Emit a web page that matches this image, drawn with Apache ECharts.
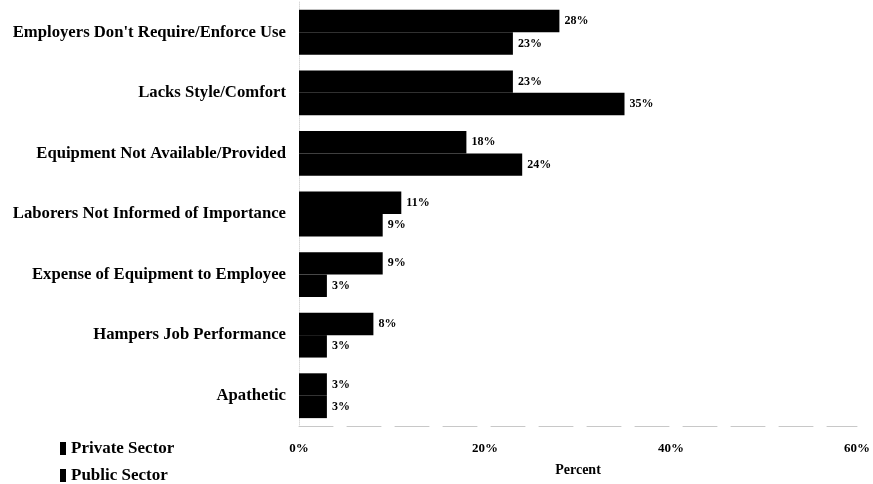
<!DOCTYPE html>
<html>
<head>
<meta charset="utf-8">
<script src="https://cdn.jsdelivr.net/npm/echarts@6/dist/echarts.min.js"></script>
<style>
  html, body { margin: 0; padding: 0; background: #fff; }
  #chart { width: 873px; height: 484px; }
</style>
</head>
<body>
<div id="chart"></div>
<script>
// Reasons given for not using protective equipment, by sector
const categories = [
  "Employers Don't Require/Enforce Use",
  "Lacks Style/Comfort",
  "Equipment Not Available/Provided",
  "Laborers Not Informed of Importance",
  "Expense of Equipment to Employee",
  "Hampers Job Performance",
  "Apathetic"
];
const privateSector = [28, 23, 18, 11, 9, 8, 3];
const publicSector = [23, 35, 24, 9, 3, 3, 3];
const seriesNames = ["Private Sector", "Public Sector"];
const xTicks = { min: 0, max: 60, interval: 20 };

const serif = "'Liberation Serif', 'Times New Roman', serif";

const chart = echarts.init(document.getElementById('chart'), null, { renderer: 'canvas' });

const valueLabel = {
  show: true,
  position: 'right',
  distance: 5,
  formatter: '{c}%',
  fontFamily: serif,
  fontWeight: 'bold',
  fontSize: 12,
  color: '#000'
};

// one legend block per series so they stack as two rows
const legendBlock = (name, top) => ({
  orient: 'vertical',
  left: 60,
  top: top,
  padding: 0,
  itemWidth: 6,
  itemHeight: 13,
  itemGap: 0,
  icon: 'rect',
  data: [name],
  textStyle: { fontFamily: serif, fontWeight: 'bold', fontSize: 17, color: '#000' }
});

chart.setOption({
  animation: false,
  backgroundColor: '#fff',
  grid: { left: 299, right: 11, top: 2, bottom: 58, containLabel: false },
  legend: [legendBlock(seriesNames[0], 440), legendBlock(seriesNames[1], 467)],
  xAxis: {
    type: 'value',
    min: xTicks.min,
    max: xTicks.max,
    interval: xTicks.interval,
    name: 'Percent',
    nameLocation: 'middle',
    nameGap: 37,
    nameTextStyle: { fontFamily: serif, fontWeight: 'bold', fontSize: 14, color: '#000' },
    axisLine: { show: true, lineStyle: { color: '#c8c8c8', type: [34, 14], width: 1 } },
    axisTick: { show: false },
    splitLine: { show: false },
    axisLabel: {
      formatter: '{value}%',
      margin: 16,
      fontFamily: serif,
      fontWeight: 'bold',
      fontSize: 13,
      color: '#000'
    }
  },
  yAxis: {
    type: 'category',
    inverse: true,
    data: categories,
    axisLine: { show: true, lineStyle: { color: '#d8d8d8', type: 'dotted', width: 1 } },
    axisTick: { show: false },
    axisLabel: {
      margin: 13,
      fontFamily: serif,
      fontWeight: 'bold',
      fontSize: 16.7,
      color: '#000'
    }
  },
  series: [
    {
      name: seriesNames[0],
      type: 'bar',
      data: privateSector,
      barGap: '0%',
      barCategoryGap: '26%',
      itemStyle: { color: '#000' },
      label: valueLabel
    },
    {
      name: seriesNames[1],
      type: 'bar',
      data: publicSector,
      barGap: '0%',
      barCategoryGap: '26%',
      itemStyle: { color: '#000' },
      label: valueLabel
    }
  ]
});
</script>
</body>
</html>
